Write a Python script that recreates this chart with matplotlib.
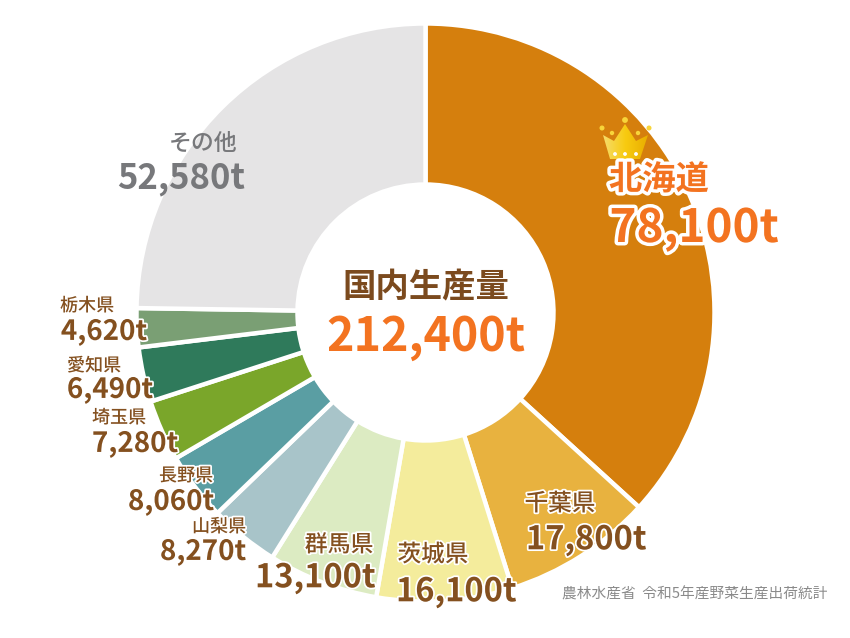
import matplotlib
matplotlib.use('Agg')
import matplotlib.pyplot as plt
import matplotlib.patheffects as pe
from matplotlib.patches import Polygon, Circle
from matplotlib.colors import LinearSegmentedColormap
import numpy as np

plt.rcParams['font.family'] = ['Noto Sans CJK JP', 'DejaVu Sans']

W, H = 850, 638

prefs = ['北海道', '千葉県', '茨城県', '群馬県', '山梨県', '長野県', '埼玉県', '愛知県', '栃木県', 'その他']
values = [78100, 17800, 16100, 13100, 8270, 8060, 7280, 6490, 4620, 52580]
colors = ['#d57f0d', '#e8b23f', '#f4ec9c', '#dcebc2', '#a8c4c9', '#5a9ea3',
          '#7aa62a', '#2f7a5b', '#7a9f74', '#e5e4e5']
total_label = '212,400t'
source = '農林水産省  令和5年産野菜生産出荷統計'

BROWN = '#84501f'
ORANGE = '#f37320'
GREY = '#77787b'

fig = plt.figure(figsize=(W / 100, H / 100), dpi=100)
ax = fig.add_axes([0, 0, 1, 1])

cx, cy, r_out, r_in = 425.5, H - 312.5, 289, 128
ax.pie(values, colors=colors, startangle=90, counterclock=False, center=(cx, cy), radius=r_out,
       wedgeprops=dict(width=r_out - r_in, edgecolor='white', linewidth=3.2))
ax.set_xlim(0, W)
ax.set_ylim(0, H)
ax.set_aspect('equal')
ax.axis('off')


def label(x, y, s, size, color, stroke=3.0, weight='bold', ha='center'):
    # x, y are in image pixels, y from the top
    t = ax.text(x, H - y, s, fontsize=size, color=color, weight=weight, ha=ha, va='center', zorder=5)
    if stroke:
        t.set_path_effects([pe.withStroke(linewidth=stroke, foreground='white')])
    return t


label(426, 288, '国内生産量', 24, '#7b4a1e', stroke=0)
label(426, 337, total_label, 33.5, ORANGE, stroke=0)

# label positions, same order as prefs: name x, y, size, value x, y, size
spots = [
    (659, 180, 24, 694, 229, 33),
    (560, 504, 17, 586, 540, 23.5),
    (433, 555, 17, 456, 592, 23.5),
    (339, 545, 16.5, 315, 578, 23.5),
    (219, 527, 13, 203, 552, 20),
    (186, 476, 13, 171, 502, 20),
    (119, 418, 13, 135, 444, 20),
    (94, 366, 13, 110, 390, 20),
    (87, 306, 13, 104, 332, 20),
    (203, 143, 16.5, 181, 179, 25),
]
for i, (name, val) in enumerate(zip(prefs, values)):
    nx, ny, ns, vx, vy, vs = spots[i]
    if i == 0:
        c, st = ORANGE, 5
    elif i == 9:
        c, st = GREY, 0
    else:
        c, st = BROWN, 2.5
    label(nx, ny, name, ns, c, stroke=st, weight='medium' if i else 'bold')
    label(vx, vy, f'{val:,}t', vs, c, stroke=st)

label(695, 594, source, 10.6, '#8a8a8a', stroke=0, weight='normal')

# crown above the top label
crown = [(603, 135), (610, 159), (640, 159), (648, 135), (636, 141), (625, 124), (614, 141)]
crown_xy = [(x, H - y) for x, y in crown]
poly = Polygon(crown_xy, closed=True, facecolor='none', edgecolor='none', zorder=4)
ax.add_patch(poly)
cmap = LinearSegmentedColormap.from_list('crown', ['#f6dc6a', '#f8cb10', '#e9ae00'])
grad = np.linspace(0, 1, 64).reshape(1, -1)
im = ax.imshow(grad, cmap=cmap, extent=(603, 648, H - 159, H - 124), aspect='auto', zorder=4)
im.set_clip_path(poly)
ax.set_xlim(0, W)
ax.set_ylim(0, H)
for x, y, rad in [(602, 128, 1.8), (612, 133, 1.5), (625, 120, 2.2), (638, 133, 1.5), (649, 128, 1.8)]:
    ax.add_patch(Circle((x, H - y), rad, color='#f8d53a', zorder=4))
for x in (615, 625, 636):
    ax.add_patch(Circle((x, H - 154), 1.2, color='white', zorder=5))

fig.savefig('out.png', dpi=100)
